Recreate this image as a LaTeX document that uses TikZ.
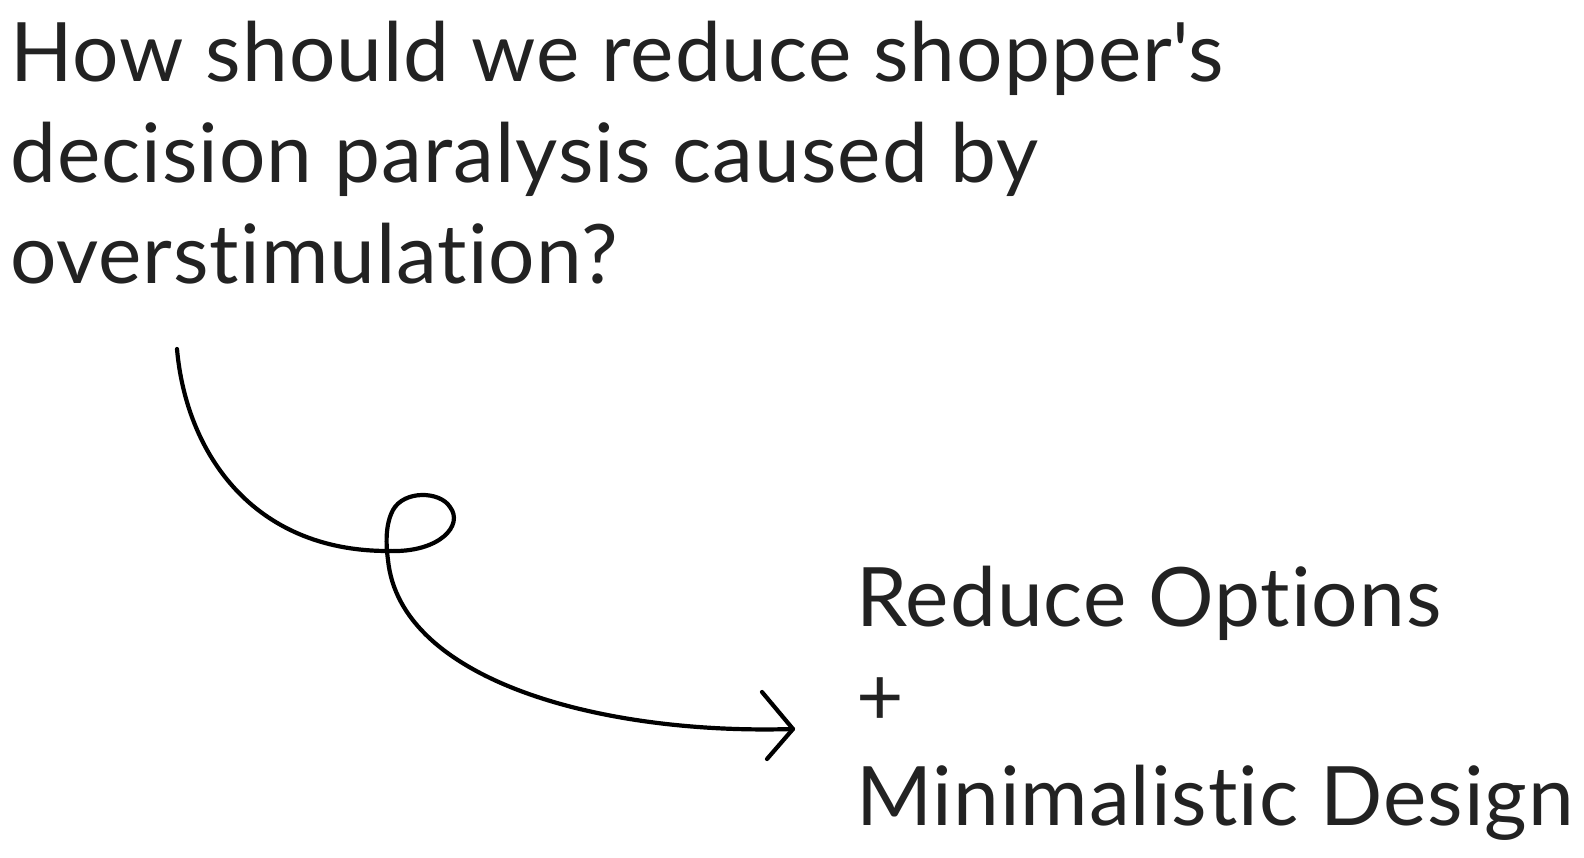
\documentclass[tikz,border=0pt]{standalone}
\usepackage{fontspec}
\setmainfont{Lato}[Ligatures={NoCommon,NoDiscretionary}, LetterSpace=1.2]
\definecolor{ink}{HTML}{222222}
\begin{document}
\begin{tikzpicture}[x=1pt,y=-1pt,
  txt/.style={font=\fontsize{82}{100}\selectfont, text=ink, inner sep=0pt, anchor=base west},
  pen/.style={draw=black, line width=4.2pt, line cap=round, line join=round}]
\useasboundingbox (0,0) rectangle (1584,858);

% question
\node[txt] (q1) at (10,81.5)  {How should we reduce shopper\textquotesingle s};
\node[txt] (q2) at (10,183)   {decision paralysis caused by};
\node[txt] (q3) at (10,284)   {overstimulation?};

% answer
\node[txt] (a1) at (856,626) {Reduce Options};
\node[txt] (a2) at (856,725) {+};
\node[txt] (a3) at (856,825) {Minimalistic Design};

% curly connector
\coordinate (s)   at (177,349);
\coordinate (x1)  at (388,551);
\coordinate (lp)  at (450,507);
\coordinate (x2)  at (388,560);
\coordinate (tip) at (793,729);
\coordinate (ua)  at (762,692);
\coordinate (la)  at (767,759);

\path[pen] (s) .. controls (186,452) and (252,551) .. (x1)
  .. controls (440,553) and (464,525) .. (lp)
  .. controls (440,491) and (404,490) .. (393,510)
  .. controls (385,525) and (386,545) .. (x2)
  .. controls (400,680) and (600,735) .. (tip);
\path[pen] (ua) -- (tip) -- (la);
\end{tikzpicture}
\end{document}
